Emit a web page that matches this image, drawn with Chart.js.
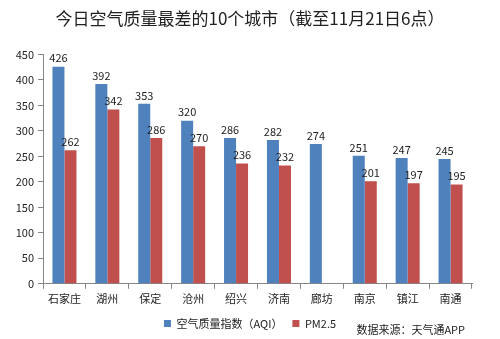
<!DOCTYPE html>
<html>
<head>
<meta charset="utf-8">
<script src="https://cdn.jsdelivr.net/npm/chart.js@4/dist/chart.umd.min.js"></script>
<style>
  html, body { margin: 0; padding: 0; background: #fff; }
  #wrap { width: 500px; height: 339px; position: relative; }
</style>
</head>
<body>
<div id="wrap"><canvas id="c" width="500" height="339"></canvas></div>
<script>
const cities = ['石家庄', '湖州', '保定', '沧州', '绍兴', '济南', '廊坊', '南京', '镇江', '南通'];
const aqiValues = [426, 392, 353, 320, 286, 282, 274, 251, 247, 245];
const pm25Values = [262, 342, 286, 270, 236, 232, null, 201, 197, 195];
const yTicks = [0, 50, 100, 150, 200, 250, 300, 350, 400, 450];

const FONT = '"Noto Sans CJK SC", "Liberation Sans", sans-serif';

// Value labels above each bar
const barValueLabels = {
  id: 'barValueLabels',
  afterDatasetsDraw(chart) {
    const ctx = chart.ctx;
    ctx.save();
    ctx.font = '11px ' + FONT;
    ctx.fillStyle = '#222';
    ctx.textAlign = 'center';
    ctx.textBaseline = 'bottom';
    chart.data.datasets.forEach((ds, i) => {
      const meta = chart.getDatasetMeta(i);
      meta.data.forEach((bar, j) => {
        const v = ds.data[j];
        if (v == null) return;
        ctx.fillText(String(v), bar.x, bar.y - 3);
      });
    });
    ctx.restore();
  }
};

// Source note in the lower right corner
const sourceNote = {
  id: 'sourceNote',
  afterDraw(chart) {
    const ctx = chart.ctx;
    ctx.save();
    ctx.font = '11px ' + FONT;
    ctx.fillStyle = '#222';
    ctx.textAlign = 'right';
    ctx.textBaseline = 'middle';
    ctx.fillText('数据来源：天气通APP', chart.width - 35, chart.height - 9);
    ctx.restore();
  }
};

new Chart(document.getElementById('c'), {
  type: 'bar',
  data: {
    labels: cities,
    datasets: [
      {
        label: '空气质量指数（AQI）',
        data: aqiValues,
        backgroundColor: '#4F81BD',
        borderWidth: 0
      },
      {
        label: 'PM2.5',
        data: pm25Values,
        backgroundColor: '#C0504D',
        borderWidth: 0
      }
    ]
  },
  options: {
    responsive: false,
    animation: false,
    devicePixelRatio: 1,
    layout: { padding: { left: 6, right: 6, top: 0, bottom: 0 } },
    datasets: {
      bar: { categoryPercentage: 0.56, barPercentage: 1.0 }
    },
    plugins: {
      title: {
        display: true,
        text: '今日空气质量最差的10个城市（截至11月21日6点）',
        color: '#222',
        font: { family: FONT, size: 17, weight: 'normal' },
        padding: { top: 8, bottom: 26 }
      },
      legend: {
        position: 'bottom',
        labels: {
          boxWidth: 7,
          boxHeight: 7,
          padding: 10,
          color: '#222',
          font: { family: FONT, size: 11 }
        }
      },
      tooltip: { enabled: false }
    },
    scales: {
      x: {
        grid: {
          display: true,
          drawOnChartArea: false,
          drawTicks: true,
          tickLength: 5,
          color: '#868686'
        },
        border: { display: true, color: '#868686' },
        ticks: {
          color: '#222',
          font: { family: FONT, size: 11 },
          padding: 3,
          maxRotation: 0
        }
      },
      y: {
        min: 0,
        max: 450,
        afterBuildTicks(axis) {
          axis.ticks = yTicks.map(v => ({ value: v }));
        },
        afterFit(axis) { axis.width = 37; },
        grid: {
          display: true,
          drawOnChartArea: false,
          drawTicks: true,
          tickLength: 5,
          color: '#868686'
        },
        border: { display: true, color: '#868686' },
        ticks: {
          color: '#222',
          font: { family: FONT, size: 11 },
          padding: 4
        }
      },
      // empty spacer on the right edge of the plot
      yRight: {
        position: 'right',
        display: true,
        afterFit(axis) { axis.width = 22; },
        grid: { display: false },
        border: { display: false },
        ticks: { display: false }
      }
    }
  },
  plugins: [barValueLabels, sourceNote]
});
</script>
</body>
</html>
